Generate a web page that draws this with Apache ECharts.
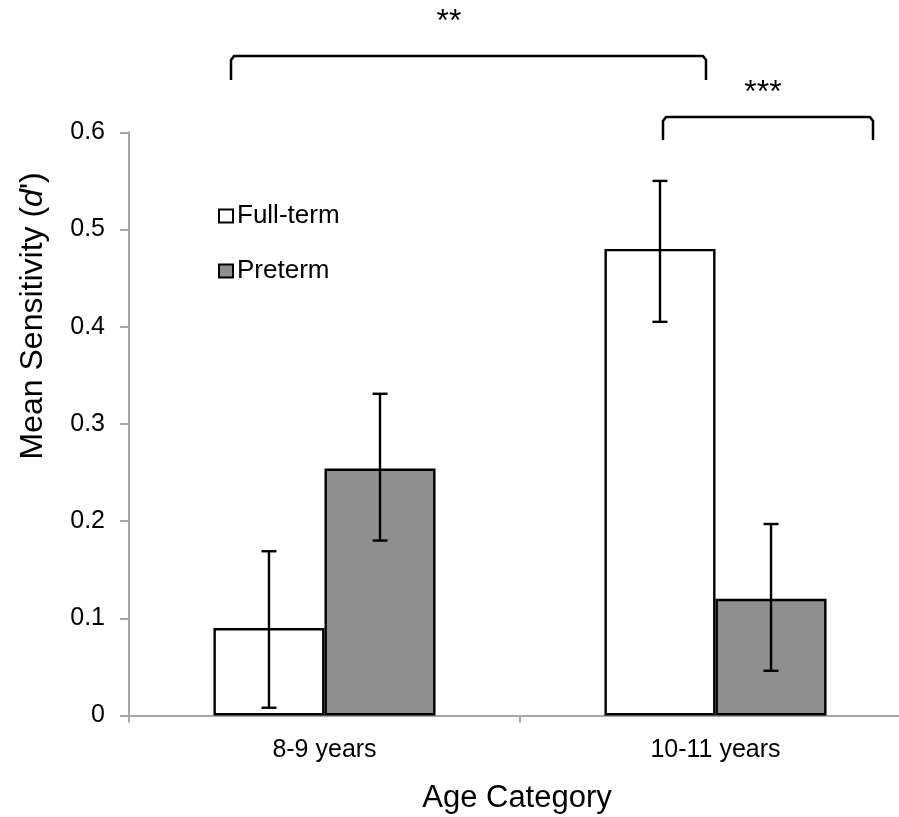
<!DOCTYPE html>
<html>
<head>
<meta charset="utf-8">
<script src="https://cdn.jsdelivr.net/npm/echarts@6/dist/echarts.min.js"></script>
<style>
  html, body { margin: 0; padding: 0; background: #fff; }
  #chart { width: 899px; height: 817px; }
</style>
</head>
<body>
<div id="chart"></div>
<script>
const categories = ['8-9 years', '10-11 years'];
const fullTermMean = [0.090, 0.480];
const fullTermLow = [0.008, 0.405];
const fullTermHigh = [0.169, 0.550];
const pretermMean = [0.254, 0.120];
const pretermLow = [0.180, 0.046];
const pretermHigh = [0.331, 0.197];
const yTicks = [0, 0.1, 0.2, 0.3, 0.4, 0.5, 0.6];

const FONT = 'Liberation Sans, Arial, sans-serif';
const BAR_FRAC = 0.284;

function errData(low, high) {
  return categories.map((c, i) => [i, low[i], high[i]]);
}

function errRender(side) {
  return function (params, api) {
    const idx = api.value(0);
    const lo = api.coord([idx, api.value(1)]);
    const hi = api.coord([idx, api.value(2)]);
    const band = api.size([1, 0])[0];
    const x = lo[0] + side * band * BAR_FRAC / 2;
    const cap = 7.5;
    const style = { stroke: '#000', lineWidth: 2.4, fill: null };
    return {
      type: 'group',
      children: [
        { type: 'line', shape: { x1: x, y1: lo[1], x2: x, y2: hi[1] }, style },
        { type: 'line', shape: { x1: x - cap, y1: lo[1], x2: x + cap, y2: lo[1] }, style },
        { type: 'line', shape: { x1: x - cap, y1: hi[1], x2: x + cap, y2: hi[1] }, style }
      ]
    };
  };
}

const chart = echarts.init(document.getElementById('chart'), null, { renderer: 'canvas' });

const option = {
  backgroundColor: '#fff',
  animation: false,
  textStyle: { fontFamily: FONT },
  grid: { left: 129, width: 782, top: 132.3, bottom: 101.5, containLabel: false, outerBoundsMode: 'none' },
  legend: {
    orient: 'vertical',
    left: 218,
    top: 203,
    padding: 0,
    itemWidth: 14,
    itemHeight: 13,
    itemGap: 29,
    icon: 'rect',
    textStyle: { fontSize: 26, lineHeight: 26, color: '#000', fontFamily: FONT, padding: [0, 0, 0, -1] },
    data: ['Full-term', 'Preterm']
  },
  xAxis: {
    type: 'category',
    data: categories,
    name: 'Age Category',
    nameLocation: 'middle',
    nameGap: 67,
    nameTextStyle: { fontSize: 31, color: '#000', fontFamily: FONT, padding: [0, 6, 0, 0] },
    axisLine: { lineStyle: { color: '#a6a6a6', width: 2 } },
    axisTick: { show: true, length: 7, lineStyle: { color: '#a6a6a6', width: 2 } },
    axisLabel: { fontSize: 25, color: '#000', margin: 22, fontFamily: FONT },
    splitLine: { show: false }
  },
  yAxis: {
    type: 'value',
    min: 0,
    max: 0.6,
    interval: 0.1,
    name: "Mean Sensitivity ({i|d}')",
    nameLocation: 'middle',
    nameRotate: 90,
    nameGap: 80,
    nameTextStyle: {
      fontSize: 32, color: '#000', fontFamily: FONT,
      padding: [0, 0, 0, 216],
      rich: { i: { fontSize: 32, fontStyle: 'italic', color: '#000', fontFamily: FONT } }
    },
    axisLine: { show: true, lineStyle: { color: '#a6a6a6', width: 2 } },
    axisTick: { show: true, length: 9, lineStyle: { color: '#a6a6a6', width: 2 } },
    axisLabel: {
      fontSize: 25, color: '#000', margin: 24, fontFamily: FONT,
      formatter: function (v) {
        const t = yTicks.find(x => Math.abs(x - v) < 1e-9);
        return t === undefined ? '' : (t === 0 ? '0' : t.toFixed(1));
      }
    },
    splitLine: { show: false }
  },
  series: [
    {
      name: 'Full-term',
      type: 'bar',
      data: fullTermMean,
      barWidth: (BAR_FRAC * 100) + '%',
      barGap: '0%',
      itemStyle: { color: '#ffffff', borderColor: '#000', borderWidth: 2.4 }
    },
    {
      name: 'Preterm',
      type: 'bar',
      data: pretermMean,
      barWidth: (BAR_FRAC * 100) + '%',
      barGap: '0%',
      itemStyle: { color: '#8f8f8f', borderColor: '#000', borderWidth: 2.4 }
    },
    {
      type: 'custom',
      name: 'fullErr',
      renderItem: errRender(-1),
      data: errData(fullTermLow, fullTermHigh),
      encode: { x: 0, y: [1, 2] },
      z: 10,
      silent: true
    },
    {
      type: 'custom',
      name: 'preErr',
      renderItem: errRender(1),
      data: errData(pretermLow, pretermHigh),
      encode: { x: 0, y: [1, 2] },
      z: 10,
      silent: true
    }
  ],
  graphic: [
    {
      type: 'polyline',
      shape: { points: [[231, 80], [231, 60], [234, 56], [703, 56], [706, 60], [706, 80]] },
      style: { stroke: '#000', lineWidth: 2.5, fill: null, lineJoin: 'round' }
    },
    {
      type: 'text',
      style: { text: '**', x: 449, y: 22, fontSize: 32, fontFamily: FONT, fill: '#000', align: 'center', verticalAlign: 'middle' }
    },
    {
      type: 'polyline',
      shape: { points: [[663, 140], [663, 121], [666, 117], [870, 117], [873, 121], [873, 140]] },
      style: { stroke: '#000', lineWidth: 2.5, fill: null, lineJoin: 'round' }
    },
    {
      type: 'text',
      style: { text: '***', x: 763, y: 93, fontSize: 32, fontFamily: FONT, fill: '#000', align: 'center', verticalAlign: 'middle' }
    }
  ]
};

chart.setOption(option);
</script>
</body>
</html>
